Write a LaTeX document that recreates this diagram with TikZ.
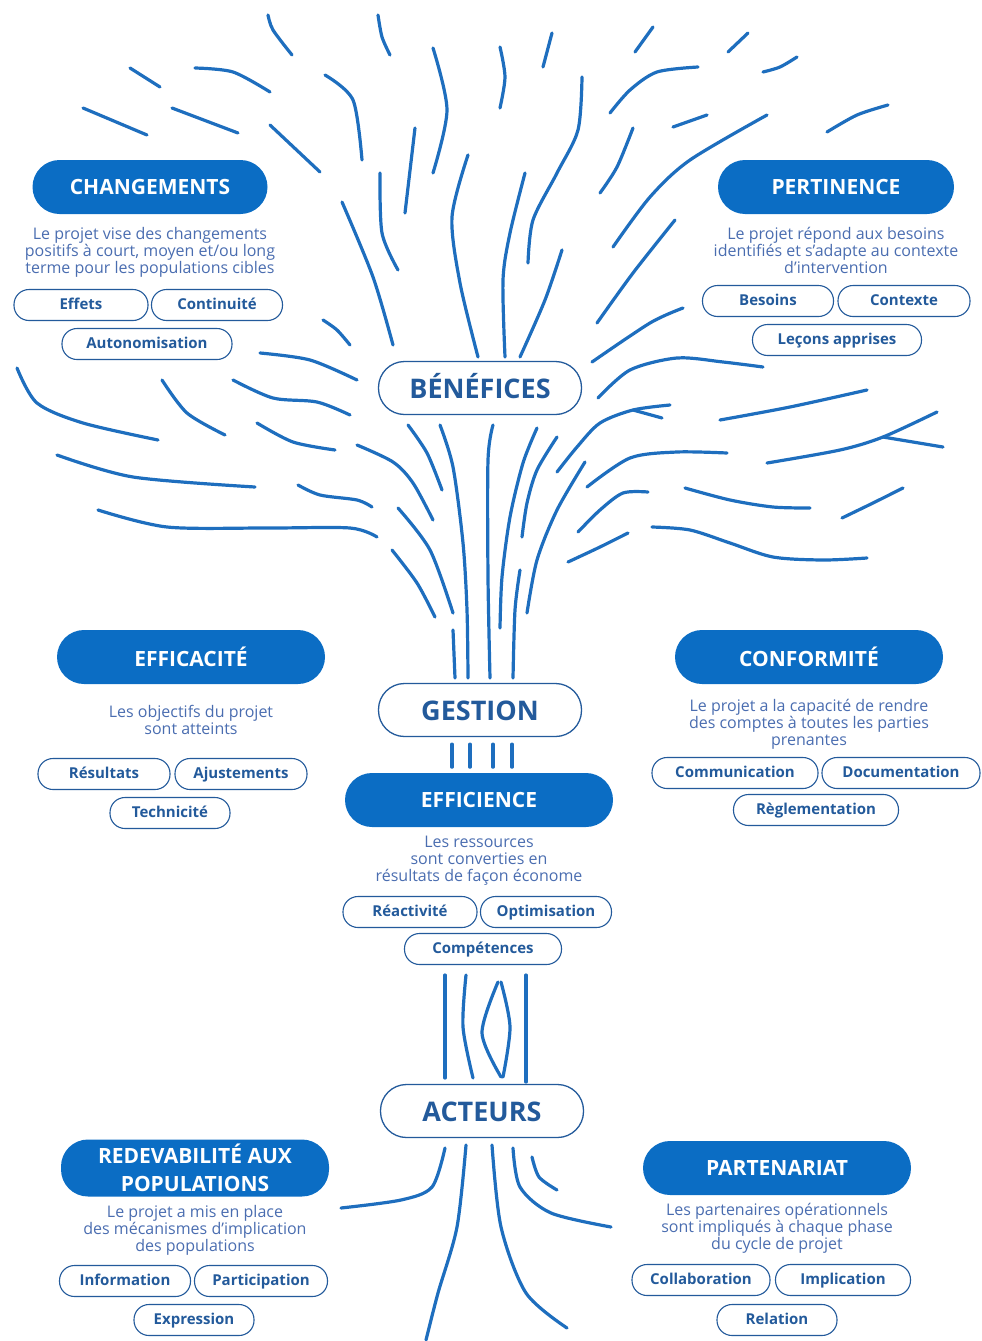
\documentclass[tikz,border=0pt]{standalone}
\usepackage{fontspec}
\setmainfont{Open Sans}
\usepackage{tikz}
\usepackage{xcolor}
\usetikzlibrary{positioning}
\definecolor{treeblue}{HTML}{1E6EBE}
\definecolor{headblue}{HTML}{0B6DC4}
\definecolor{inkblue}{HTML}{235A9B}
\definecolor{descblue}{HTML}{4A6DB0}
\tikzstyle{headbox} = [fill=headblue,text=white,rounded corners=27pt,
  minimum width=268pt,minimum height=54pt,inner sep=0pt,align=center,
  font=\bfseries\fontsize{21}{28}\selectfont]
\tikzstyle{hubbox} = [draw=inkblue,line width=1.3pt,fill=white,
  rounded corners=26pt,minimum width=203pt,minimum height=53pt,
  text height=20pt,text depth=0pt,
  text=inkblue,font=\bfseries\fontsize{27}{30}\selectfont]
\tikzstyle{keybox} = [draw=inkblue,line width=1.1pt,fill=white,
  rounded corners=15pt,minimum height=31pt,inner sep=0pt,text=inkblue,
  text height=11pt,text depth=3pt,
  font=\bfseries\fontsize{15}{17}\selectfont]
\tikzstyle{desctext} = [text=descblue,align=center,inner sep=0pt,
  font=\fontsize{16}{17}\selectfont]
\tikzstyle{branch} = [draw=treeblue,line width=3.2pt,line cap=round]

\begin{document}
\begin{tikzpicture}[x=1pt,y=-1pt]
  \useasboundingbox (0,0) rectangle (982,1341);

  % crown
  \draw[branch] plot[smooth] coordinates {(268,15) (273,30) (292,55)};
  \draw[branch] plot[smooth] coordinates {(378,15) (382,37) (390,55)};
  \draw[branch] plot[smooth] coordinates {(433,48) (447,110) (433,173)};
  \draw[branch] plot[smooth] coordinates {(130,68) (160,87)};
  \draw[branch] plot[smooth] coordinates {(195,68) (233,72) (270,92)};
  \draw[branch] plot[smooth] coordinates {(325,75) (353,100) (362,160)};
  \draw[branch] plot[smooth] coordinates {(83,108) (147,135)};
  \draw[branch] plot[smooth] coordinates {(172,108) (238,133)};
  \draw[branch] plot[smooth] coordinates {(270,125) (320,172)};
  \draw[branch] plot[smooth] coordinates {(415,128) (405,213)};
  \draw[branch] plot[smooth] coordinates {(380,173) (382,233) (398,270)};
  \draw[branch] plot[smooth] coordinates {(468,155) (452,217) (460,283) (478,357)};
  \draw[branch] plot[smooth] coordinates {(342,202) (373,277) (393,345)};
  \draw[branch] plot[smooth] coordinates {(323,320) (337,330) (350,345)};
  \draw[branch] plot[smooth] coordinates {(500,47) (505,77) (500,108)};
  \draw[branch] plot[smooth] coordinates {(552,33) (543,67)};
  \draw[branch] plot[smooth] coordinates {(653,27) (635,52)};
  \draw[branch] plot[smooth] coordinates {(748,33) (728,52)};
  \draw[branch] plot[smooth] coordinates {(797,57) (780,67) (763,72)};
  \draw[branch] plot[smooth] coordinates {(698,67) (657,72) (630,90) (610,113)};
  \draw[branch] plot[smooth] coordinates {(582,77) (578,130) (557,173) (533,220) (528,263)};
  \draw[branch] plot[smooth] coordinates {(707,115) (673,127)};
  \draw[branch] plot[smooth] coordinates {(888,105) (857,115) (827,132)};
  \draw[branch] plot[smooth] coordinates {(767,115) (690,160) (650,197) (613,247)};
  \draw[branch] plot[smooth] coordinates {(633,128) (617,167) (600,193)};
  \draw[branch] plot[smooth] coordinates {(525,173) (510,233) (503,280) (505,357)};
  \draw[branch] plot[smooth] coordinates {(562,250) (545,300) (520,357)};
  \draw[branch] plot[smooth] coordinates {(675,220) (633,273) (597,323)};
  \draw[branch] plot[smooth] coordinates {(683,308) (650,323) (592,362)};

  % lower crown, left
  \draw[branch] plot[smooth] coordinates {(17,368) (37,403) (83,423) (158,440)};
  \draw[branch] plot[smooth] coordinates {(162,380) (187,413) (225,435)};
  \draw[branch] plot[smooth] coordinates {(260,353) (310,360) (357,380)};
  \draw[branch] plot[smooth] coordinates {(233,380) (273,398) (317,402) (350,415)};
  \draw[branch] plot[smooth] coordinates {(257,423) (293,442) (335,450)};
  \draw[branch] plot[smooth] coordinates {(357,445) (393,462) (413,483) (433,520)};
  \draw[branch] plot[smooth] coordinates {(57,455) (133,477) (255,487)};
  \draw[branch] plot[smooth] coordinates {(298,485) (320,495) (357,500) (372,507)};
  \draw[branch] plot[smooth] coordinates {(98,510) (167,527) (267,528) (350,528) (377,537)};

  % lower crown, right
  \draw[branch] plot[smooth] coordinates {(763,367) (723,362) (677,358) (630,370) (598,398)};
  \draw[branch] plot[smooth] coordinates {(670,405) (633,410) (600,423) (577,447) (557,472)};
  \draw[branch] plot[smooth] coordinates {(633,410) (662,418)};
  \draw[branch] plot[smooth] coordinates {(867,390) (790,407) (720,420)};
  \draw[branch] plot[smooth] coordinates {(937,412) (883,437) (840,450) (767,463)};
  \draw[branch] plot[smooth] coordinates {(883,437) (943,447)};
  \draw[branch] plot[smooth] coordinates {(727,453) (677,452) (630,458) (587,487)};
  \draw[branch] plot[smooth] coordinates {(648,492) (623,493) (600,510) (578,532)};
  \draw[branch] plot[smooth] coordinates {(685,488) (730,500) (773,507) (810,508)};
  \draw[branch] plot[smooth] coordinates {(903,488) (873,503) (842,518)};
  \draw[branch] plot[smooth] coordinates {(652,527) (690,530) (730,543) (773,557) (823,560) (867,558)};
  \draw[branch] plot[smooth] coordinates {(628,533) (600,547) (568,562)};

  % trunk
  \draw[branch] plot[smooth] coordinates {(408,425) (427,453) (442,490)};
  \draw[branch] plot[smooth] coordinates {(440,425) (453,467) (463,543) (467,610) (468,678)};
  \draw[branch] plot[smooth] coordinates {(493,425) (488,460) (488,577) (490,678)};
  \draw[branch] plot[smooth] coordinates {(537,428) (523,463) (510,517) (502,577) (500,628)};
  \draw[branch] plot[smooth] coordinates {(557,437) (537,470) (527,503) (522,537)};
  \draw[branch] plot[smooth] coordinates {(520,570) (515,610) (513,678)};
  \draw[branch] plot[smooth] coordinates {(585,462) (557,510) (537,560) (527,613)};
  \draw[branch] plot[smooth] coordinates {(398,508) (430,550) (453,613)};
  \draw[branch] plot[smooth] coordinates {(392,550) (417,583) (435,617)};
  \draw[branch] plot[smooth] coordinates {(453,630) (455,678)};

  % hubs
  \node[hubbox] (ben) at (480,388) {BÉNÉFICES};
  \node[hubbox] (gest) at (480,710) {GESTION};
  \node[hubbox] (act) at (482,1111) {ACTEURS};

  \foreach \dx in {-28,-10,13,32}
    \draw[branch] ([xshift=\dx pt,yshift=-7pt]gest.south) -- ([xshift=\dx pt,yshift=-30pt]gest.south);

  % roots
  \draw[branch] plot[smooth] coordinates {(445,975) (445,1078)};
  \draw[branch] plot[smooth] coordinates {(466,975) (463,1027) (473,1078)};
  \draw[branch] plot[smooth] coordinates {(498,982) (482,1033) (501,1077)};
  \draw[branch] plot[smooth] coordinates {(501,982) (510,1027) (503,1077)};
  \draw[branch] plot[smooth] coordinates {(526,975) (526,1082)};
  \draw[branch] plot[smooth] coordinates {(445,1148) (432,1187) (401,1200) (341,1208)};
  \draw[branch] plot[smooth] coordinates {(466,1145) (457,1227) (438,1293) (426,1340)};
  \draw[branch] plot[smooth] coordinates {(492,1145) (501,1227) (526,1293) (567,1328)};
  \draw[branch] plot[smooth] coordinates {(513,1148) (520,1187) (551,1213) (611,1227)};
  \draw[branch] plot[smooth] coordinates {(532,1157) (539,1177) (557,1190)};

  % headings
  \node[headbox,minimum width=235pt] (chg) at (150,187) {CHANGEMENTS};
  \node[headbox,minimum width=236pt] (pert) at (836,187) {PERTINENCE};
  \node[headbox] (effa) at (191,657) {EFFICACITÉ};
  \node[headbox] (conf) at (809,657) {CONFORMITÉ};
  \node[headbox] (effi) at (479,800) {EFFICIENCE};
  \node[headbox,minimum height=57pt] (redev) at (195,1168) {REDEVABILITÉ AUX\\POPULATIONS};
  \node[headbox] (part) at (777,1168) {PARTENARIAT};

  % descriptions
  \node[desctext,below=13pt of chg] (chgtxt) {Le projet vise des changements\\positifs à court, moyen et/ou long\\terme pour les populations cibles};
  \node[desctext,below=13pt of pert] (perttxt) {Le projet répond aux besoins\\identifiés et s’adapte au contexte\\d’intervention};
  \node[desctext,below=21pt of effa] (effatxt) {Les objectifs du projet\\sont atteints};
  \node[desctext,below=15pt of conf] (conftxt) {Le projet a la capacité de rendre\\des comptes à toutes les parties\\prenantes};
  \node[desctext,below=9pt of effi] (effitxt) {Les ressources\\sont converties en\\résultats de façon économe};
  \node[desctext,below=8pt of redev] (redevtxt) {Le projet a mis en place\\des mécanismes d’implication\\des populations};
  \node[desctext,below=8pt of part] (parttxt) {Les partenaires opérationnels\\sont impliqués à chaque phase\\du cycle de projet};

  % keywords
  \node[keybox,minimum width=134pt] (effets) at (81,305) {Effets};
  \node[keybox,minimum width=131pt] (cont) at (217,305) {Continuité};
  \node[keybox,minimum width=170pt] (auto) at (147,344) {Autonomisation};
  \node[keybox,minimum width=131pt] (bes) at (768,301) {Besoins};
  \node[keybox,minimum width=132pt] (ctx) at (904,301) {Contexte};
  \node[keybox,minimum width=169pt] (lec) at (837,340) {Leçons apprises};
  \node[keybox,minimum width=132pt] (res) at (104,774) {Résultats};
  \node[keybox,minimum width=132pt] (aju) at (241,774) {Ajustements};
  \node[keybox,minimum width=120pt] (tech) at (170,813) {Technicité};
  \node[keybox,minimum width=166pt] (comm) at (735,773) {Communication};
  \node[keybox,minimum width=158pt] (doc) at (901,773) {Documentation};
  \node[keybox,minimum width=165pt] (regl) at (816,810) {Règlementation};
  \node[keybox,minimum width=134pt] (reac) at (410,912) {Réactivité};
  \node[keybox,minimum width=131pt] (opti) at (546,912) {Optimisation};
  \node[keybox,minimum width=157pt] (comp) at (483,949) {Compétences};
  \node[keybox,minimum width=131pt] (info) at (125,1281) {Information};
  \node[keybox,minimum width=133pt] (parti) at (261,1281) {Participation};
  \node[keybox,minimum width=120pt] (expr) at (194,1320) {Expression};
  \node[keybox,minimum width=138pt] (coll) at (701,1280) {Collaboration};
  \node[keybox,minimum width=135pt] (impl) at (843,1280) {Implication};
  \node[keybox,minimum width=120pt] (rel) at (777,1320) {Relation};
\end{tikzpicture}
\end{document}
